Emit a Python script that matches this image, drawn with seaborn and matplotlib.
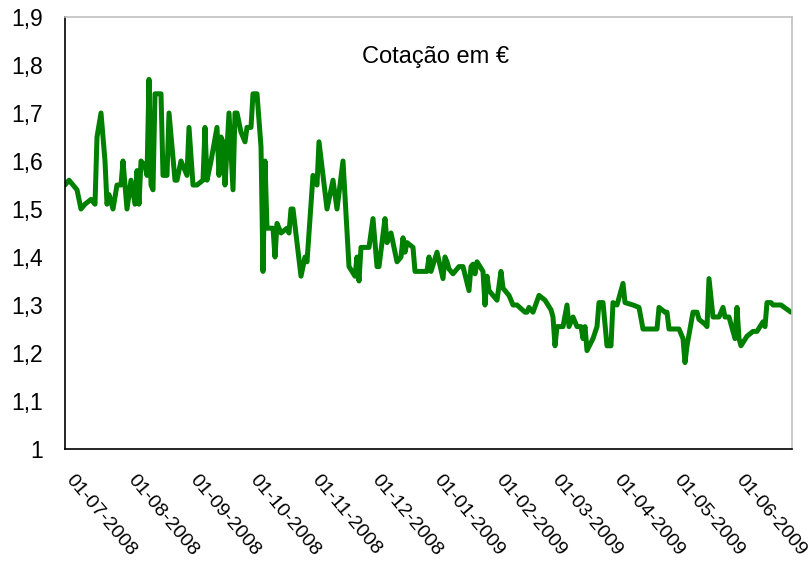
import matplotlib
matplotlib.use('Agg')
import matplotlib.pyplot as plt
import matplotlib.dates as mdates
from matplotlib.ticker import FuncFormatter
import pandas as pd
import seaborn as sns

# Data (date, price in EUR)
dates = [
    '2008-07-01', '2008-07-03', '2008-07-05', '2008-07-07', '2008-07-09', '2008-07-11', '2008-07-14',
    '2008-07-16', '2008-07-17', '2008-07-19', '2008-07-21', '2008-07-22', '2008-07-23', '2008-07-25',
    '2008-07-27', '2008-07-29', '2008-07-30',
    '2008-08-01', '2008-08-03', '2008-08-05', '2008-08-06', '2008-08-07', '2008-08-08', '2008-08-10',
    '2008-08-11', '2008-08-12', '2008-08-13', '2008-08-14', '2008-08-15', '2008-08-18', '2008-08-19',
    '2008-08-21', '2008-08-22', '2008-08-25', '2008-08-26', '2008-08-28', '2008-08-30', '2008-08-31',
    '2008-09-01', '2008-09-03', '2008-09-05', '2008-09-08', '2008-09-09', '2008-09-10', '2008-09-12',
    '2008-09-15', '2008-09-16', '2008-09-17', '2008-09-18', '2008-09-19', '2008-09-21', '2008-09-23',
    '2008-09-24', '2008-09-25', '2008-09-27', '2008-09-29', '2008-09-30',
    '2008-10-02', '2008-10-03', '2008-10-05', '2008-10-07', '2008-10-08', '2008-10-09', '2008-10-10',
    '2008-10-13', '2008-10-14', '2008-10-15', '2008-10-17', '2008-10-20', '2008-10-21', '2008-10-22',
    '2008-10-23', '2008-10-27', '2008-10-29', '2008-10-30',
    '2008-11-02', '2008-11-04', '2008-11-05', '2008-11-09', '2008-11-12', '2008-11-14', '2008-11-17',
    '2008-11-20', '2008-11-23', '2008-11-24', '2008-11-25', '2008-11-26', '2008-11-30',
    '2008-12-02', '2008-12-04', '2008-12-05', '2008-12-08', '2008-12-09', '2008-12-11', '2008-12-14',
    '2008-12-16', '2008-12-17', '2008-12-18', '2008-12-19', '2008-12-22', '2008-12-23', '2008-12-29',
    '2008-12-30', '2008-12-31',
    '2009-01-03', '2009-01-06', '2009-01-07', '2009-01-08', '2009-01-09', '2009-01-11', '2009-01-14',
    '2009-01-16', '2009-01-19', '2009-01-20', '2009-01-21', '2009-01-22', '2009-01-23', '2009-01-26',
    '2009-01-27', '2009-01-28', '2009-01-29',
    '2009-02-02', '2009-02-04', '2009-02-05', '2009-02-08', '2009-02-10', '2009-02-12', '2009-02-16',
    '2009-02-17', '2009-02-18', '2009-02-20', '2009-02-23', '2009-02-26',
    '2009-03-01', '2009-03-02', '2009-03-03', '2009-03-04', '2009-03-07', '2009-03-09', '2009-03-10',
    '2009-03-12', '2009-03-14', '2009-03-16', '2009-03-17', '2009-03-18', '2009-03-19', '2009-03-22',
    '2009-03-24', '2009-03-25', '2009-03-27', '2009-03-29', '2009-03-31',
    '2009-04-01', '2009-04-03', '2009-04-06', '2009-04-07', '2009-04-11', '2009-04-14', '2009-04-16',
    '2009-04-23', '2009-04-24', '2009-04-27', '2009-04-28', '2009-04-29',
    '2009-05-04', '2009-05-06', '2009-05-07', '2009-05-08', '2009-05-11', '2009-05-13', '2009-05-14',
    '2009-05-17', '2009-05-18', '2009-05-19', '2009-05-21', '2009-05-24', '2009-05-26', '2009-05-27',
    '2009-05-29',
    '2009-06-01', '2009-06-02', '2009-06-03', '2009-06-04', '2009-06-07', '2009-06-10', '2009-06-12',
    '2009-06-15', '2009-06-16', '2009-06-17', '2009-06-19', '2009-06-20', '2009-06-24', '2009-06-29',
]
prices = [
    1.55, 1.56, 1.55, 1.54, 1.50, 1.51, 1.52,
    1.51, 1.65, 1.70, 1.60, 1.51, 1.53, 1.50,
    1.55, 1.55, 1.60,
    1.50, 1.56, 1.51, 1.58, 1.51, 1.60, 1.59,
    1.57, 1.77, 1.55, 1.54, 1.74, 1.74, 1.57,
    1.57, 1.70, 1.56, 1.56, 1.60, 1.58, 1.57,
    1.67, 1.55, 1.55, 1.56, 1.67, 1.56, 1.60,
    1.67, 1.57, 1.65, 1.64, 1.55, 1.70, 1.54,
    1.70, 1.70, 1.66, 1.64, 1.67,
    1.67, 1.74, 1.74, 1.63, 1.37, 1.60, 1.46,
    1.46, 1.40, 1.47, 1.45, 1.46, 1.45, 1.50,
    1.50, 1.36, 1.40, 1.39,
    1.57, 1.55, 1.64, 1.50, 1.56, 1.50, 1.60,
    1.38, 1.36, 1.40, 1.35, 1.42, 1.42,
    1.48, 1.38, 1.38, 1.48, 1.43, 1.45, 1.39,
    1.40, 1.44, 1.41, 1.43, 1.42, 1.37, 1.37,
    1.40, 1.37,
    1.41, 1.355, 1.40, 1.39, 1.375, 1.365, 1.38,
    1.38, 1.33, 1.38, 1.385, 1.365, 1.39, 1.37,
    1.30, 1.36, 1.33,
    1.31, 1.37, 1.335, 1.32, 1.30, 1.30, 1.285,
    1.285, 1.295, 1.285, 1.32, 1.31,
    1.29, 1.275, 1.215, 1.255, 1.255, 1.30, 1.255,
    1.275, 1.255, 1.255, 1.23, 1.255, 1.205, 1.23,
    1.255, 1.305, 1.305, 1.215, 1.215,
    1.305, 1.30, 1.345, 1.305, 1.30, 1.295, 1.25,
    1.25, 1.295, 1.285, 1.285, 1.25,
    1.25, 1.23, 1.18, 1.215, 1.285, 1.285, 1.27,
    1.26, 1.255, 1.355, 1.275, 1.275, 1.295, 1.275,
    1.275,
    1.23, 1.295, 1.23, 1.215, 1.235, 1.245, 1.245,
    1.265, 1.255, 1.305, 1.305, 1.30, 1.30, 1.285,
]
tick_dates = ['2008-07-01', '2008-08-01', '2008-09-01', '2008-10-01', '2008-11-01', '2008-12-01',
              '2009-01-01', '2009-02-01', '2009-03-01', '2009-04-01', '2009-05-01', '2009-06-01']
y_ticks = [1.0, 1.1, 1.2, 1.3, 1.4, 1.5, 1.6, 1.7, 1.8, 1.9]

df = pd.DataFrame({'Data': pd.to_datetime(dates), 'Cotacao': prices})

sns.set_style('white')
plt.rcParams['font.family'] = ['Liberation Sans', 'DejaVu Sans']

fig = plt.figure(figsize=(8.1, 5.61), dpi=100)
ax = fig.add_axes([65 / 810, 1 - 449 / 561, 727 / 810, 432 / 561])

sns.lineplot(data=df, x='Data', y='Cotacao', color='#008000', linewidth=3.6, ax=ax)

ax.set_xlim(pd.Timestamp('2008-07-01'), pd.Timestamp('2009-06-29 12:00'))
ax.set_ylim(1.0, 1.9)
ax.set_yticks(y_ticks)
ax.yaxis.set_major_formatter(FuncFormatter(lambda v, p: ('%g' % round(v, 1)).replace('.', ',')))
ax.set_xticks(pd.to_datetime(tick_dates))
ax.xaxis.set_major_formatter(mdates.DateFormatter('%d-%m-%Y'))
ax.set_xlabel('')
ax.set_ylabel('')

ax.tick_params(axis='both', which='major', direction='out', width=1,
               color='black', labelcolor='black')
ax.tick_params(axis='x', length=5.5, pad=17, labelsize=14)
ax.tick_params(axis='y', length=6, pad=10, labelsize=16.5)

for lab in ax.get_xticklabels():
    lab.set_rotation(-50)
    lab.set_ha('left')
    lab.set_va('baseline')
    lab.set_rotation_mode('anchor')

for side in ['left', 'bottom']:
    ax.spines[side].set_color('black')
    ax.spines[side].set_linewidth(1.2)
for side in ['top', 'right']:
    ax.spines[side].set_color('#c0c0c0')
    ax.spines[side].set_linewidth(1.2)

ax.text(0.51, 0.907, 'Cotação em €', transform=ax.transAxes, ha='center', va='center',
        fontsize=17, color='black')

plt.savefig('out.png', dpi=100)
